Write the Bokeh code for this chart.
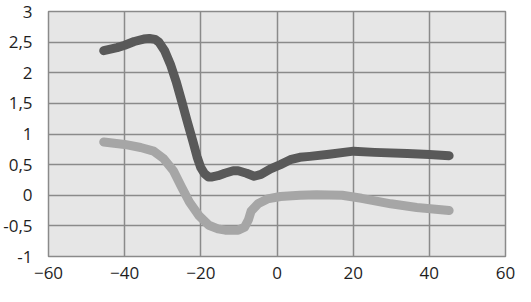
from bokeh.plotting import figure
from bokeh.models import FixedTicker, Range1d
from bokeh.embed import file_html
from bokeh.resources import INLINE

# Series values
dark_x = [-45.5, -42, -40, -37.5, -35, -33.5, -32, -31, -29.5, -28, -26.5, -25, -23.5, -22, -21, -20, -19, -18,
          -17, -15.5, -13.7, -11.5, -10.2, -8, -6, -4.2, -1.7, 0.9, 3.5, 6, 8.6, 13.7, 20.1, 25.6, 34.2, 40, 45.2]
dark_y = [2.36, 2.41, 2.45, 2.51, 2.55, 2.56, 2.545, 2.5, 2.36, 2.14, 1.86, 1.53, 1.19, 0.86, 0.63, 0.45, 0.35, 0.30,
          0.30, 0.32, 0.36, 0.40, 0.40, 0.36, 0.31, 0.34, 0.43, 0.50, 0.58, 0.62, 0.635, 0.67, 0.72, 0.70, 0.68, 0.665, 0.645]

light_x = [-45.5, -40, -35.8, -32.4, -29.8, -27.2, -25.1, -23, -20.4, -17.9, -15.5, -13.6, -10.2, -8.5, -7.5, -6.8, -5,
           -2.5, 0.9, 6, 10.3, 17.1, 22.2, 29.9, 36.7, 45.2]
light_y = [0.87, 0.83, 0.78, 0.72, 0.60, 0.40, 0.14, -0.11, -0.34, -0.49, -0.55, -0.57, -0.57, -0.52, -0.40, -0.26, -0.14,
           -0.06, -0.02, 0.0, 0.01, 0.0, -0.05, -0.14, -0.20, -0.25]

x_ticks = [-60, -40, -20, 0, 20, 40, 60]
y_ticks = [-1, -0.5, 0, 0.5, 1, 1.5, 2, 2.5, 3]
y_labels = ["-1", "-0,5", "0", "0,5", "1", "1,5", "2", "2,5", "3"]

p = figure(width=515, height=286, output_backend="svg", toolbar_location=None,
           x_range=Range1d(-60, 60), y_range=Range1d(-1, 3),
           min_border_left=45, min_border_right=10, min_border_top=11, min_border_bottom=30)

p.background_fill_color = "#e6e6e6"
p.border_fill_color = "white"
p.outline_line_color = "#8a8a8a"
p.outline_line_width = 1.5

p.line(light_x, light_y, line_color="#a6a6a6", line_width=9, line_join="round", line_cap="round")
p.line(dark_x, dark_y, line_color="#595959", line_width=9, line_join="round", line_cap="round")

p.xaxis.ticker = FixedTicker(ticks=x_ticks)
p.yaxis.ticker = FixedTicker(ticks=y_ticks)
p.yaxis.major_label_overrides = {t: l for t, l in zip(y_ticks, y_labels)}

for ax in (p.xaxis, p.yaxis):
    ax.axis_line_color = None
    ax.major_tick_line_color = None
    ax.minor_tick_line_color = None
    ax.major_tick_out = 0
    ax.major_tick_in = 0
    ax.major_label_text_font = "Open Sans"
    ax.major_label_text_font_size = "17px"
    ax.major_label_text_color = "#1e1e1e"

p.yaxis.major_label_standoff = 16
p.xaxis.major_label_standoff = 10

p.xgrid.ticker = FixedTicker(ticks=x_ticks)
p.ygrid.ticker = FixedTicker(ticks=y_ticks)
for g in (p.xgrid, p.ygrid):
    g.grid_line_color = "#8a8a8a"
    g.grid_line_width = 1.5

open("out.html", "w").write(file_html(p, INLINE))
